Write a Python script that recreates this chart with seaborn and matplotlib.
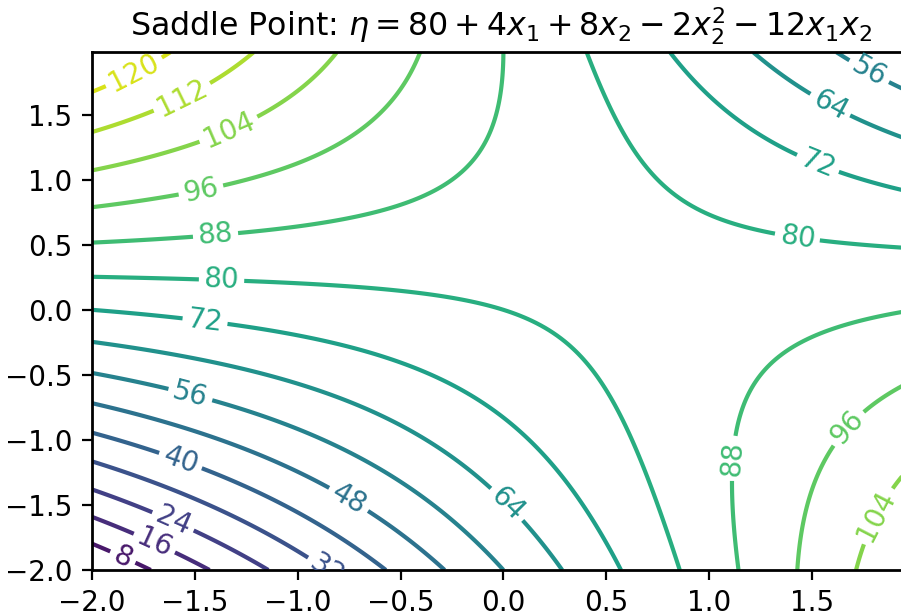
import matplotlib
matplotlib.use("Agg")
import matplotlib.pyplot as plt
import numpy as np
import seaborn as sns

# response surface coefficients (from the title)
intercept = 80
b1 = 4
b2 = 8
b22 = -2
b12 = -12

# grid of the two factors
x1_vals = np.arange(-2, 2, 0.02)
x2_vals = np.arange(-2, 2, 0.02)

# contour levels and colour range
levels = [8, 16, 24, 32, 40, 48, 56, 64, 72, 80, 88, 96, 104, 112, 120]
color_min = 0
color_max = 128

# where the inline labels sit (x1, x2)
label_spots = [
    (-1.80, 1.84), (-1.57, 1.66), (-1.34, 1.40), (-1.475, 0.956),
    (-1.40, 0.585), (-1.37, 0.24), (-1.45, -0.08), (-1.52, -0.64),
    (-1.57, -1.16), (-0.746, -1.44), (0.02, -1.49), (-0.82, -1.97),
    (-1.61, -1.64), (-1.69, -1.77), (-1.85, -1.90),
    (1.78, 1.84), (1.59, 1.58), (1.53, 1.13), (1.43, 0.57),
    (1.10, -1.14), (1.675, -0.91), (1.80, -1.57),
]

sns.set_style("ticks")
plt.rcParams.update({
    "axes.edgecolor": "black",
    "xtick.color": "black",
    "ytick.color": "black",
    "text.color": "black",
    "axes.linewidth": 1.0,
    "font.family": ["DejaVu Sans"],
})

X1, X2 = np.meshgrid(x1_vals, x2_vals)
eta = intercept + b1 * X1 + b2 * X2 + b22 * X2**2 + b12 * X1 * X2

fig = plt.figure(figsize=(4.505, 3.075), dpi=200)
ax = fig.add_axes([0.1021, 0.0732, 0.9087, 0.8418])

cmap = sns.color_palette("viridis", as_cmap=True)
cs = ax.contour(X1, X2, eta, levels=levels, cmap=cmap,
                vmin=color_min, vmax=color_max, linewidths=1.5)
ax.clabel(cs, inline=True, fontsize=10, manual=label_spots)

ax.set_title(r"Saddle Point: $\eta = 80 + 4x_1 + 8x_2 - 2x_2^2 - 12x_1x_2$", fontsize=11.4)
ax.set_xticks([-2.0, -1.5, -1.0, -0.5, 0.0, 0.5, 1.0, 1.5])
ax.set_yticks([-2.0, -1.5, -1.0, -0.5, 0.0, 0.5, 1.0, 1.5])

fig.savefig("out.png", dpi=200)
